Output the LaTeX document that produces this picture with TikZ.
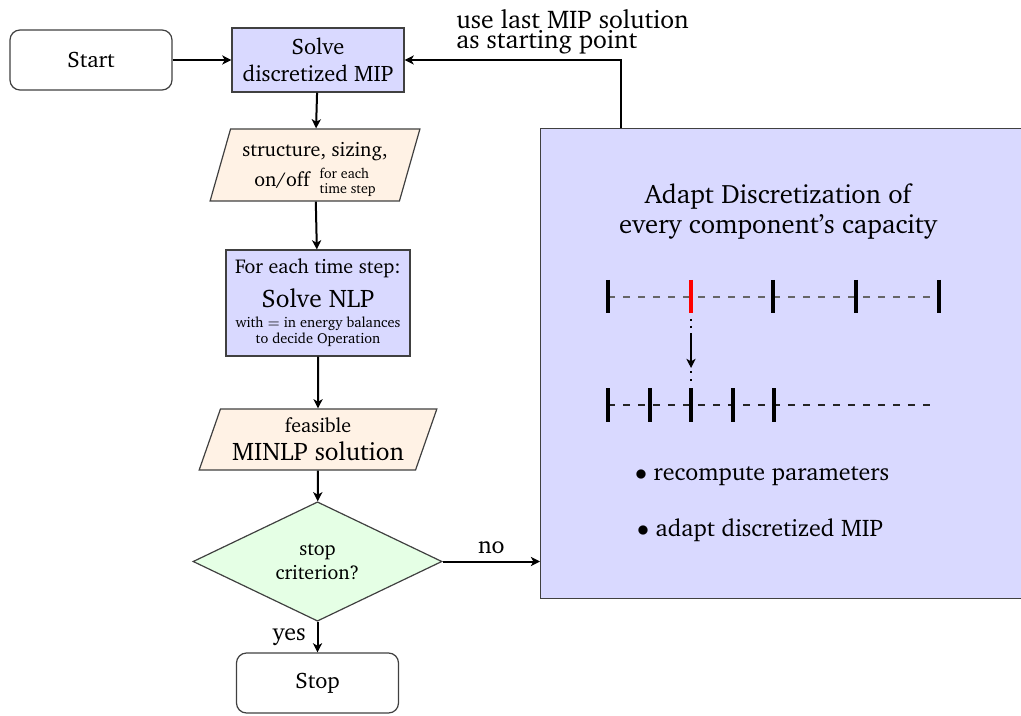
\documentclass[tikz,border=0pt]{standalone}
\usepackage[T1]{fontenc}
\usepackage{charter}
\usetikzlibrary{shapes.geometric,arrows.meta}

\tikzset{
  base/.style={draw=black!75, line width=0.6pt, align=center, inner sep=2pt,
               font=\fontsize{10}{12}\selectfont},
  mid font/.style={font=\fontsize{11.2}{13.5}\selectfont},
  term/.style={base, mid font, rounded corners=5pt, minimum width=81pt, minimum height=30pt},
  proc/.style={base, fill=blue!15},
  io/.style={base, fill=orange!10, trapezium, trapezium stretches=true},
  decide/.style={base, fill=green!10, diamond, inner sep=0pt},
  tip/.style={-{Stealth[length=4.6pt, width=4.6pt, inset=1.3pt]}},
  arr/.style={tip, line width=1pt},
  tickmark/.style={line width=1.6pt},
  grid line/.style={dash pattern=on 3.5pt off 4pt, line width=0.7pt},
  biglabel/.style={font=\fontsize{12}{14.5}\selectfont},
}

\begin{document}
\begin{tikzpicture}[x=0.5pt, y=-0.5pt]
\clip (0,0) rectangle (1021,716);

% main flow
\node[term] (start) at (91,60) {Start};
\node[proc, mid font, minimum width=86pt, minimum height=32pt] (solve) at (318,60)
  {Solve\\discretized MIP};
\node[io, trapezium left angle=71, trapezium right angle=109,
      minimum width=105pt, minimum height=36pt] (par1) at (315,165)
  {structure, sizing,\\[3pt]on/off\hspace{5pt}\smash{\fontsize{7}{7.5}\selectfont\begin{tabular}[c]{@{}l@{}}for each\\time step\end{tabular}}};
\node[proc, minimum width=92pt, minimum height=53pt] (nlp) at (318,303)
  {For each time step:\\[5pt]{\fontsize{12.7}{14}\selectfont Solve NLP}\\[-2pt]
   {\fontsize{7.2}{8}\selectfont with $=$ in energy balances}\\[-4pt]
   {\fontsize{7.2}{8}\selectfont to decide Operation}};
\node[io, trapezium left angle=69, trapezium right angle=111,
      minimum width=119pt, minimum height=30.5pt] (par2) at (318,439.5)
  {feasible\\[2pt]{\fontsize{12.7}{14}\selectfont MINLP solution}};
\node[decide, minimum width=124.5pt, minimum height=49.5pt] (dec) at (317.5,561.5)
  {stop\\criterion?};
\node[term] (stop) at (317.5,683) {Stop};

% discretization panel
\node[proc, minimum width=251pt, minimum height=235pt, anchor=north west,
      inner sep=0pt] (adapt) at (540,128) {};
\node[font=\fontsize{13.3}{15}\selectfont, align=center] (ttl) at (778,211)
  {Adapt Discretization of\\every component's capacity};

% coarse grid with the refined point in red
\draw[grid line, black!60] (608,297) -- (939,297);
\foreach \x in {608,773,856,939} \draw[tickmark] (\x,280) -- (\x,313);
\draw[tickmark, red] (691,280) -- (691,313);

% refined grid
\draw[grid line, black!85] (608,405) -- (937,405);
\foreach \x in {608,650,691,733,774} \draw[tickmark] (\x,388) -- (\x,422);

% refinement arrow between the two grids
\coordinate (rtick) at (691,313);
\coordinate (rmid) at (691,368);
\coordinate (ntick) at (691,388);
\draw[tip, line width=0.8pt,
      dash pattern=on 0pt off 3pt on 1pt off 2.5pt on 1pt off 2.5pt on 40pt]
  (rtick) -- (rmid);
\draw[line width=0.8pt, dash pattern=on 0pt off 1.5pt on 1pt off 3pt on 1pt off 20pt]
  (rmid) -- (ntick);

\node[biglabel, anchor=west] (b1) at (628,476) {$\bullet$ recompute parameters};
\node[biglabel, anchor=west] (b2) at (630,530) {$\bullet$ adapt discretized MIP};

% connectors
\draw[arr] (start) -- (solve);
\draw[arr] (solve) -- (par1);
\draw[arr] (par1) -- (nlp);
\draw[arr] (nlp) -- (par2);
\draw[arr] (par2) -- (dec);
\draw[arr] (dec.south) -- (stop.north)
  node[midway, left, biglabel, xshift=-2pt] {yes};
\draw[arr] (dec.east) -- (dec.east -| adapt.west)
  node[midway, above, biglabel] {no};

\coordinate (fb) at (621,128);
\draw[arr] (fb) |- (solve.east);
\node[anchor=north west, align=left, inner sep=0pt,
      font=\fontsize{12.8}{9}\selectfont] (fblabel) at (456,9)
  {use last MIP solution\\as starting point};
\end{tikzpicture}
\end{document}
